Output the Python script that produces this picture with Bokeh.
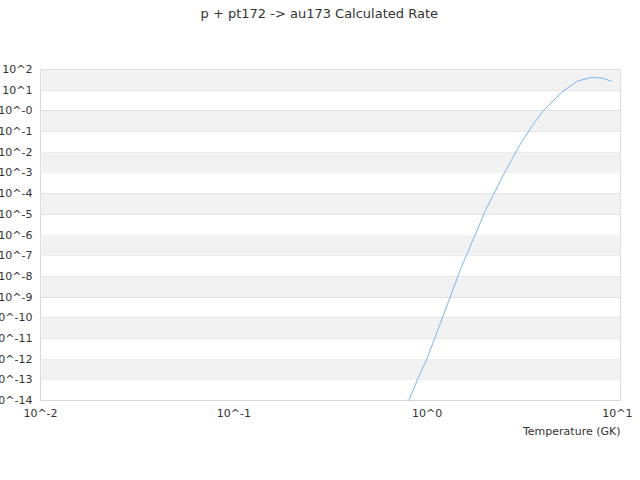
from bokeh.plotting import figure
from bokeh.models import (FixedTicker, CustomJSTickFormatter, BoxAnnotation, Title)
from bokeh.embed import file_html
from bokeh.resources import INLINE

# ---- data ----
temperature_gk = [0.8, 0.9, 1.0, 1.5, 2.0, 2.5, 3.0, 3.5, 4.0, 5.0, 6.0, 7.0, 8.0, 9.0]
log_rate = [-14.05, -12.89, -11.97, -7.57, -4.82, -3.03, -1.68, -0.71, 0.02,
            0.93, 1.44, 1.61, 1.59, 1.43]
rate = [10.0 ** v for v in log_rate]

x_tick_exps = [-2, -1, 0, 1]
x_tick_labels = ["10^-2", "10^-1", "10^0", "10^1"]
y_tick_exps = list(range(-14, 3))
y_tick_labels = ["10^-14", "10^-13", "10^-12", "10^-11", "10^-10", "10^-9", "10^-8",
                 "10^-7", "10^-6", "10^-5", "10^-4", "10^-3", "10^-2", "10^-1",
                 "10^-0", "10^1", "10^2"]
band_exps = [1, -1, -3, -5, -7, -9, -11, -13]  # lower edge of shaded decades

title_text = "p + pt172 -> au173 Calculated Rate"
x_title = "Temperature (GK)"

FONT = "DejaVu Sans"

p = figure(x_axis_type="log", y_axis_type="log",
           x_range=(1e-2, 1e1), y_range=(1e-14, 1e2),
           frame_width=580, frame_height=331,
           output_backend="svg", toolbar_location=None,
           min_border_left=0, min_border_right=12, min_border_top=0,
           min_border_bottom=0)
p.margin = (0, 0, 0, -12)
p.title.visible = False

# spacer panel between frame and title
p.add_layout(Title(text=" ", text_font=FONT, text_font_size="13px", standoff=29), "above")
p.add_layout(Title(text=title_text, align="left", offset=160, text_font=FONT,
                   text_font_size="13px", text_font_style="normal",
                   text_color="#333333", standoff=6), "above")

for e in band_exps:
    p.add_layout(BoxAnnotation(bottom=10.0 ** e, top=10.0 ** (e + 1),
                               fill_color="#f2f2f2", fill_alpha=1.0,
                               line_alpha=0, level="underlay"))

p.line(temperature_gk, rate, line_color="#7cb5ec", line_width=1)

fmt_code = """
const e = Math.round(Math.log10(tick));
const i = exps.indexOf(e);
return i >= 0 ? labels[i] : "";
"""
p.xaxis.ticker = FixedTicker(ticks=[10.0 ** e for e in x_tick_exps], minor_ticks=[])
p.xaxis.formatter = CustomJSTickFormatter(args=dict(exps=x_tick_exps, labels=x_tick_labels), code=fmt_code)
p.yaxis.ticker = FixedTicker(ticks=[10.0 ** e for e in y_tick_exps], minor_ticks=[])
p.yaxis.formatter = CustomJSTickFormatter(args=dict(exps=y_tick_exps, labels=y_tick_labels), code=fmt_code)

for ax in (p.xaxis, p.yaxis):
    ax.axis_line_color = None
    ax.major_tick_line_color = None
    ax.minor_tick_line_color = None
    ax.major_label_text_font = FONT
    ax.major_label_text_font_size = "11px"
    ax.major_label_text_color = "#333333"

p.yaxis.major_label_standoff = 2
p.xaxis.major_label_standoff = 0

p.xgrid.grid_line_color = None
p.ygrid.grid_line_color = "#e0e0e0"
p.ygrid.grid_line_width = 1

p.outline_line_color = "#d8d8d8"
p.outline_line_width = 1
p.background_fill_color = "white"
p.border_fill_color = "white"

xt = Title(text=x_title, align="right", text_font=FONT, text_font_size="11px",
           text_font_style="normal", text_color="#333333", standoff=0)
p.add_layout(xt, "below")
p.min_border_bottom = 40

open("out.html", "w").write(file_html(p, INLINE))
